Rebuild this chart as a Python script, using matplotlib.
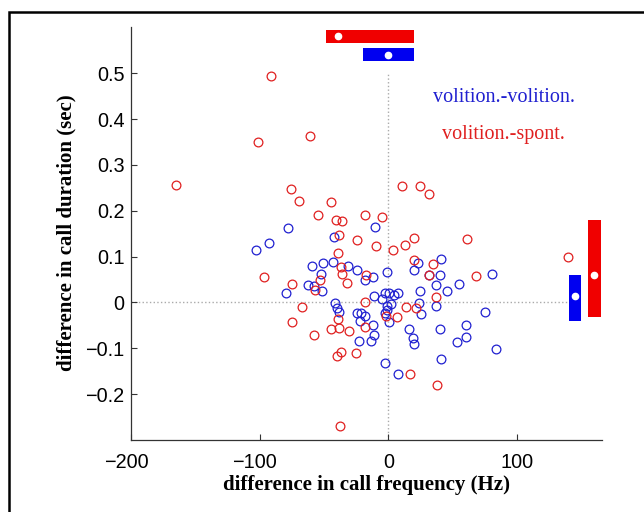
import numpy as np
import matplotlib.pyplot as plt
from matplotlib.patches import Rectangle
from matplotlib.transforms import ScaledTranslation

# volition.-volition. pairs (blue)
vv_freq = [-103.2, -93.0, -78.0, -10.5, -42.6,
           -79.4, -62.6, -59.6, -51.0, -52.7, -57.5, -51.4,
           -43.2, -31.1, -24.3, -18.3, -11.8, -1.3,
           19.9, 23.3, 41.1, 40.2, 31.8, 37.4, 45.4, 54.9, 24.8, 80.9,
           -11.1, -5.2, -2.3, 0.8, 4.4, 7.4,
           1.8, -0.9, -1.0, -2.5, 0.8,
           -41.6, -39.7, -38.3, -24.3, -21.6, -18.5, -22.3, -12.0, -10.8, -13.4, -22.7,
           23.6, 25.4, 36.9, 15.8, 19.3, 19.8, 40.5, 60.5, 60.5, 53.5, 74.9, 83.8, 41.2, -2.8, 7.5]
vv_dur = [0.115, 0.130, 0.162, 0.165, 0.142,
          0.020, 0.037, 0.080, 0.085, 0.063, 0.036, 0.025,
          0.088, 0.080, 0.070, 0.050, 0.055, 0.067,
          0.070, 0.087, 0.095, 0.059, 0.059, 0.037, 0.024, 0.040, 0.025, 0.062,
          0.013, 0.007, 0.020, 0.021, 0.017, 0.020,
          -0.004, -0.007, -0.016, -0.024, -0.043,
          -0.002, -0.012, -0.020, -0.024, -0.022, -0.029, -0.041, -0.050, -0.072, -0.085, -0.085,
          -0.002, -0.025, -0.007, -0.057, -0.077, -0.090, -0.057, -0.050, -0.075, -0.087, -0.020, -0.102, -0.123, -0.132, -0.155]

# volition.-spont. pairs (red)
vs_freq = [-91.4, -101.6, -61.3, -165.2, -76.0, -69.5, -44.7, -54.9, -40.5, -36.4, -18.1, -5.1, 10.9, 24.4, 31.9,
           -38.6, -24.2, -9.6, 3.8, 13.3, 20.3, 60.9, -39.0, 139.9,
           -96.8, -74.8, -57.0, -53.4, -36.5, -36.2, -32.2, -17.3, 20.2, 34.7, 31.9, 68.5, 37.5,
           -67.4, -18.5, 6.4, -1.9, 13.5, 21.5,
           -74.8, -57.5, -44.4, -38.6, -39.0, -30.6, -17.9,
           -40.2, -37.1, -25.1, 17.0, 37.8, -37.7]
vs_dur = [0.494, 0.349, 0.364, 0.257, 0.247, 0.222, 0.220, 0.190, 0.179, 0.177, 0.190, 0.187, 0.255, 0.255, 0.237,
          0.148, 0.137, 0.123, 0.115, 0.125, 0.140, 0.139, 0.108, 0.098,
          0.055, 0.040, 0.028, 0.049, 0.077, 0.062, 0.043, 0.059, 0.093, 0.084, 0.060, 0.057, 0.011,
          -0.010, 0.000, -0.032, -0.029, -0.009, -0.012,
          -0.043, -0.070, -0.057, -0.055, -0.036, -0.062, -0.053,
          -0.117, -0.109, -0.110, -0.155, -0.180, -0.270]

# summary bars: [volition.-volition., volition.-spont.]
freq_lo = [-19.6, -48.6]
freq_hi = [20.1, 20.1]
freq_mid = [0.1, -39.0]
dur_lo = [-0.040, -0.032]
dur_hi = [0.059, 0.179]
dur_mid = [0.014, 0.059]
bar_y = [0.540, 0.580]     # where the frequency bars sit
bar_x = [145.3, 160.4]     # where the duration bars sit

labels = ['volition.-volition.', 'volition.-spont.']
pt_colors = ['#2020d0', '#e02020']
bar_colors = ['#0000f0', '#f00000']

x_ticks = [-200, -100, 0, 100]
y_ticks = [-0.2, -0.1, 0, 0.1, 0.2, 0.3, 0.4, 0.5]

fig = plt.figure(figsize=(6.44, 5.12), dpi=100)
ax = fig.add_axes([0.204, 0.1406, 0.7301, 0.8061])

# zero reference lines
ax.plot([0, 0], [-0.3, 0.5], ls=':', color='#aaaaaa', lw=1, zorder=1)
ax.plot([-200, 140], [0, 0], ls=':', color='#aaaaaa', lw=1, zorder=1)

ax.plot(vv_freq, vv_dur, 'o', mfc='none', mec=pt_colors[0], ms=6.3, mew=0.9, zorder=3)
ax.plot(vs_freq, vs_dur, 'o', mfc='none', mec=pt_colors[1], ms=6.3, mew=0.9, zorder=3)

for i in range(2):
    ax.barh(bar_y[i], freq_hi[i] - freq_lo[i], left=freq_lo[i], height=0.028,
            color=bar_colors[i], zorder=4)
    ax.plot(freq_mid[i], bar_y[i], 'o', color='white', ms=4.5, zorder=5)
    ax.bar(bar_x[i], dur_hi[i] - dur_lo[i], bottom=dur_lo[i], width=9.7,
           color=bar_colors[i], zorder=4)
    ax.plot(bar_x[i], dur_mid[i], 'o', color='white', ms=4.5, zorder=5)

ax.text(89.8, 0.447, labels[0], color=pt_colors[0], ha='center', va='center',
        family='Liberation Serif', fontsize=14.5)
ax.text(89.8, 0.366, labels[1], color=pt_colors[1], ha='center', va='center',
        family='Liberation Serif', fontsize=14.5)

ax.set_xlim(-200, 166)
ax.set_ylim(-0.3, 0.6)
ax.set_xticks(x_ticks)
ax.set_yticks(y_ticks)
ax.set_xticklabels([f'{v:g}'.replace('-', '\u2212') for v in x_ticks])
ax.set_yticklabels([f'{v:g}'.replace('-', '\u2212') for v in y_ticks])
for lab in ax.get_xticklabels() + ax.get_yticklabels():
    lab.set_family('Liberation Sans')
    lab.set_fontsize(14.3)
ax.tick_params(direction='in', length=4, width=0.8, color='#333333')
ax.tick_params(axis='x', pad=9)
ax.tick_params(axis='y', pad=5)

# digits centred on the tick, minus sign hangs to the left (as in the original)
shift = ScaledTranslation(-5.5 / 100, 0, fig.dpi_scale_trans)
for v, tk in zip(x_ticks, ax.xaxis.get_major_ticks()):
    if v < 0:
        tk.label1.set_transform(tk.label1.get_transform() + shift)

for s in ['top', 'right']:
    ax.spines[s].set_visible(False)
for s in ['left', 'bottom']:
    ax.spines[s].set_color('#333333')
    ax.spines[s].set_linewidth(0.9)

ax.set_xlabel('difference in call frequency (Hz)', family='Liberation Serif',
              fontweight='bold', fontsize=15, va='center')
ax.set_ylabel('difference in call duration (sec)', family='Liberation Serif',
              fontweight='bold', fontsize=15, va='center')
ax.xaxis.set_label_coords(0.5, -0.109)
ax.yaxis.set_label_coords(-0.137, 0.503)

# outer frame of the figure panel (cropped on the right and bottom)
fig.patches.append(Rectangle((9 / 644, -0.05), 1.2, 1.05 - 12 / 512, transform=fig.transFigure,
                             fill=False, ec='black', lw=1.8, clip_on=False))

fig.savefig('out.png', dpi=100)
